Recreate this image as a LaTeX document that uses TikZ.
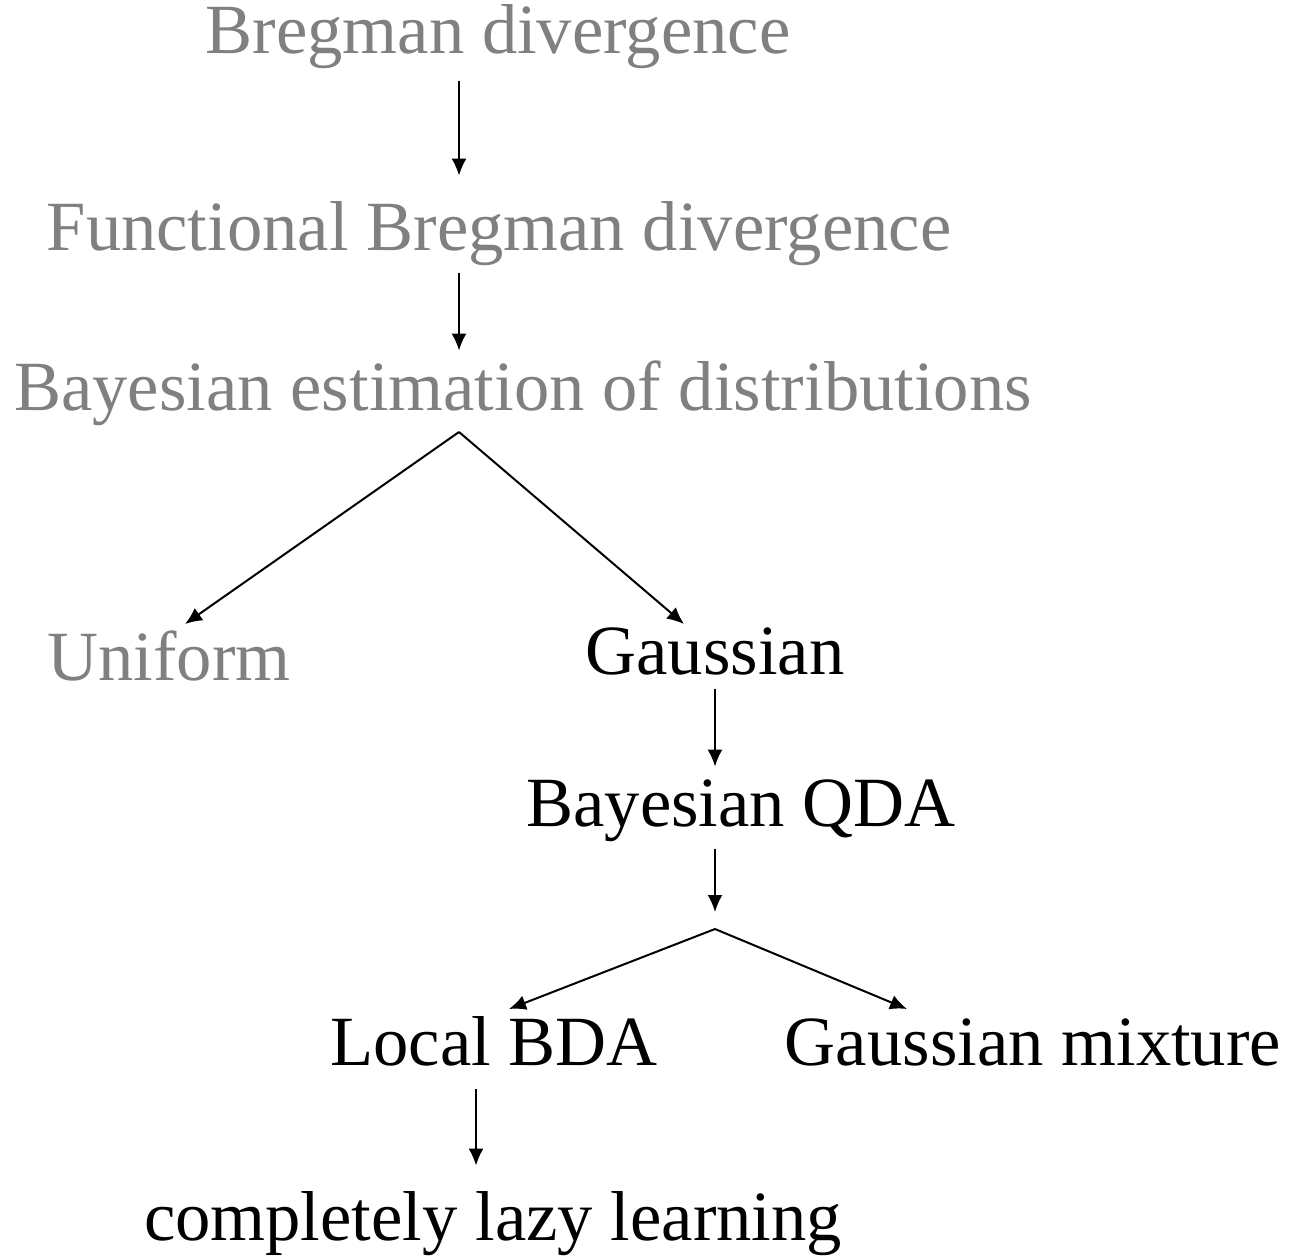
\documentclass[tikz,border=0pt]{standalone}
\usepackage{fontspec}
\setmainfont{Liberation Serif}
\usetikzlibrary{arrows.meta,calc}
\definecolor{dimtext}{HTML}{808080}
\begin{document}
\begin{tikzpicture}[x=0.5pt,y=-0.5pt,
  lbl/.style={anchor=base,inner sep=0pt,text height=0pt,text depth=0pt,
    font=\fontsize{35.3}{42}\selectfont},
  dim/.style={lbl,text=dimtext},
  arr/.style={-{Latex[length=8.5pt,width=7.5pt]},line width=1pt}]
\useasboundingbox (0,0) rectangle (1300,1258);

% labels (anchored on their baselines)
\node[dim] (bd)  at (498,54)   {Bregman divergence};
\node[dim] (fbd) at (499,250)  {Functional Bregman divergence};
\node[dim] (bed) at (523,410)  {Bayesian estimation of distributions};
\node[dim] (uni) at (169,680)  {Uniform};
\node[lbl] (gau) at (715,674)  {Gaussian};
\node[lbl] (qda) at (741,826)  {Bayesian QDA};
\node[lbl] (bda) at (494,1065) {Local BDA};
\node[lbl] (gmx) at (1033,1065){Gaussian mixture};
\node[lbl] (lazy) at (493,1240){completely lazy learning};

% branch points and arrow ends
\coordinate (br1) at (459,432);
\coordinate (br2) at (715,929);
\coordinate (uniIn) at (185,624);
\coordinate (gauIn) at (684,624);
\coordinate (bdaIn) at (509,1009);
\coordinate (gmxIn) at (907,1009);

% straight chains
\draw[arr,shorten <=13pt,shorten >=36.5pt] (bd.south -| 459,0) -- (fbd.north -| 459,0);
\draw[arr,shorten <=11pt,shorten >=29pt] (fbd.south -| 459,0) -- (bed.north -| 459,0);
\draw[arr,shorten <=7pt,shorten >=29pt] (gau.south) -- (qda.north -| gau.south);
\draw[arr,shorten <=11pt,shorten >=0pt] (qda.south -| gau.south) -- (br2 |- 0,912);
\draw[arr,shorten <=11.5pt,shorten >=36.5pt] (bda.south -| 476,0) -- (lazy.north -| 476,0);

% forks
\draw[arr] (br1) -- (uniIn);
\draw[arr] (br1) -- (gauIn);
\draw[arr] (br2) -- (bdaIn);
\draw[arr] (br2) -- (gmxIn);
\end{tikzpicture}
\end{document}
